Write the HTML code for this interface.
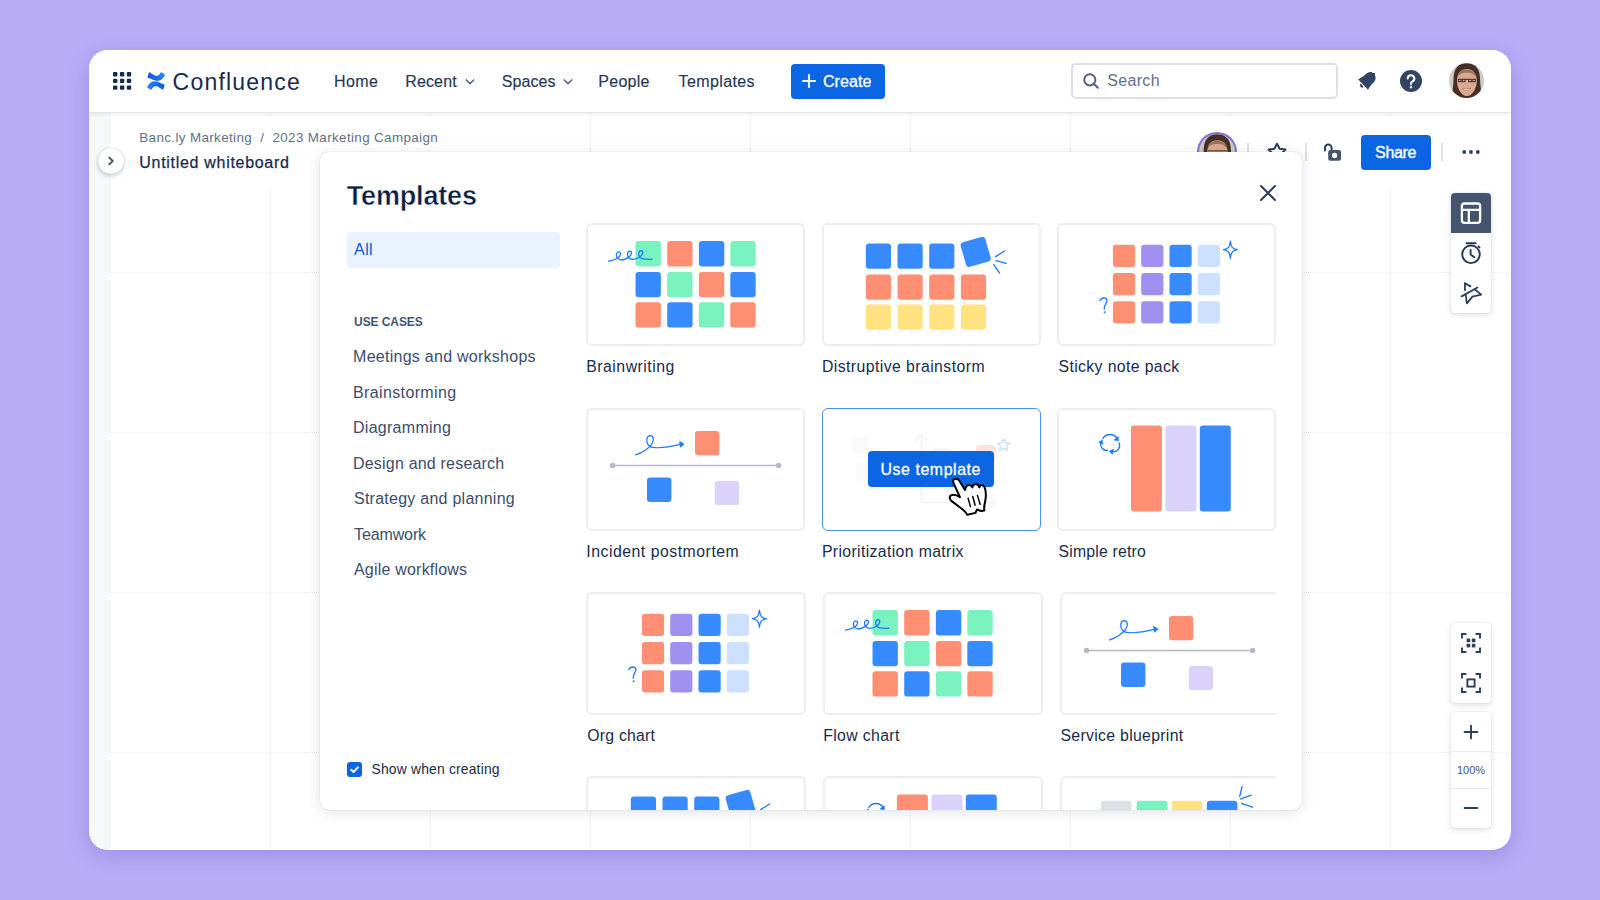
<!DOCTYPE html>
<html lang="en">
<head>
<meta charset="utf-8">
<title>Confluence whiteboard templates</title>
<style>
*{box-sizing:border-box;margin:0;padding:0}
html,body{width:1600px;height:900px;overflow:hidden}
body{background:#B8ACF6;font-family:"Liberation Sans",sans-serif;color:#172B4D;position:relative}
.abs{position:absolute}
.t{position:absolute;white-space:nowrap;line-height:1}
#win{position:absolute;left:89px;top:50px;width:1422px;height:800px;background:#fff;border-radius:19px;overflow:hidden;box-shadow:0 6px 22px rgba(70,50,170,.24)}
/* coordinates inside #win are page coords minus (89,50); use helper wrapper shifted */
#pg{position:absolute;left:-89px;top:-50px;width:1600px;height:900px}
#nav{position:absolute;left:89px;top:50px;width:1422px;height:62px;background:#fff;box-shadow:0 1px 0 #E4E6EA,0 2px 4px rgba(9,30,66,.10);z-index:5}
.navt{font-size:15.5px;color:#26375A;-webkit-text-stroke:.15px #26375A;top:73px;letter-spacing:.1px}
#strip{position:absolute;left:89px;top:112px;width:22px;height:738px;background:#F7F8F9}
.vl{position:absolute;top:112px;height:738px;width:0;border-left:1px dotted #E8EAEE}
.hl{position:absolute;left:111px;width:1400px;height:0;border-top:1px dotted #E8EAEE}
#modal{position:absolute;left:319.6px;top:151.8px;width:982.4px;height:657.8px;background:#fff;border-radius:9px;box-shadow:0 0 1px rgba(9,30,66,.28),0 2px 14px rgba(9,30,66,.13);overflow:hidden;z-index:10}
#mi{position:absolute;left:-319.6px;top:-151.8px;width:1600px;height:900px}
.card{position:absolute;width:218px;height:123.2px;border:2px solid #ECEDF1;border-radius:6px;background:#fff;overflow:hidden}
.card svg{position:absolute;left:-1.1px;top:-1.1px}
.cl{font-size:15.5px;color:#172B4D}
.si{font-size:15px;color:#3C4D6C;left:354px}
</style>
</head>
<body>
<div id="win"><div id="pg">
  <div id="strip"></div>
  <div id="grid"><div class="vl" style="left:270px"></div><div class="vl" style="left:430px"></div><div class="vl" style="left:590px"></div><div class="vl" style="left:750px"></div><div class="vl" style="left:910px"></div><div class="vl" style="left:1070px"></div><div class="vl" style="left:1230px"></div><div class="vl" style="left:1390px"></div><div class="hl" style="top:272px"></div><div class="hl" style="top:432px"></div><div class="hl" style="top:592px"></div><div class="hl" style="top:752px"></div></div>
  <div id="hdr">
<div class="abs" style="left:111px;top:116px;width:470px;height:72px;background:linear-gradient(90deg,#fff 88%,rgba(255,255,255,0))"></div>
<div class="abs" style="left:1150px;top:116px;width:361px;height:72px;background:linear-gradient(270deg,#fff 88%,rgba(255,255,255,0))"></div>
<div class="t" style="left:139.30px;top:131.36px;font-size:13.4px;color:#626F86;letter-spacing:0.370px">Banc.ly Marketing&nbsp; /&nbsp; 2023 Marketing Campaign</div>
<div class="t" style="left:139.30px;top:154.66px;font-size:16px;color:#172B4D;letter-spacing:0.702px;-webkit-text-stroke:.25px #172B4D">Untitled whiteboard</div>
<div class="abs" style="left:98px;top:148px;width:26px;height:26px;border-radius:50%;background:#fff;box-shadow:0 0 1px rgba(9,30,66,.3),0 2px 5px rgba(9,30,66,.22)">
 <svg width="26" height="26" viewBox="0 0 26 26" style="position:absolute;left:0;top:0"><path d="M11.2 9.6 L14.8 13 L11.2 16.4" fill="none" stroke="#44546F" stroke-width="1.9" stroke-linecap="round" stroke-linejoin="round"/></svg>
</div>
<!-- right header actions -->
<div class="abs" style="left:1197px;top:132px;width:40px;height:40px;border-radius:50%;background:#8270DB"></div>
<svg class="abs" style="left:1199px;top:134px" width="36" height="36" viewBox="0 0 35 35">
 <defs><clipPath id="av2"><circle cx="17.5" cy="17.5" r="17.5"/></clipPath></defs>
 <g clip-path="url(#av2)"><g filter="url(#bl1)">
  <rect x="-2" y="-2" width="39" height="39" fill="#CFCBC3"/>
  <path d="M17.600 .2C8 .2 4.800 7 4.600 15C4.400 24 2.500 30 4 36H31.500C33 30 31.200 24 31 15C30.800 7 27.500 .2 17.600 .2Z" fill="#452E25"/>
  <path d="M17.800 6C11.500 6 8.200 10 8 17C7.800 25 12 33 17.800 33C23.600 33 28 25 27.800 17C27.600 10 24 6 17.800 6Z" fill="#DCA98E"/>
  <path d="M8.200 14.500C10 8 14 6.500 17 6.800C22 6 26.500 9 27.800 15C25 10.500 21.500 9.600 17.800 9.800C13.500 9.600 10.500 10.800 8.200 14.500Z" fill="#6A4636" opacity=".55"/>
  <path d="M8.600 16.400H27.200" fill="none" stroke="#4A403E" stroke-width="1.100"/>
 </g></g>
</svg>
<div class="abs" style="left:1247px;top:143px;width:2px;height:18px;background:#DCDFE4"></div>
<svg class="abs" style="left:1264.6px;top:139.600px" width="24" height="24" viewBox="0 0 24 24"><path d="M12 3.6l2.600 5.200 5.900.8-4.300 4.100 1 5.800L12 16.800l-5.200 2.700 1-5.800-4.300-4.100 5.900-.8z" fill="none" stroke="#2C3E5D" stroke-width="2" stroke-linejoin="round"/></svg>
<div class="abs" style="left:1305px;top:143px;width:2px;height:18px;background:#DCDFE4"></div>
<svg class="abs" style="left:1321px;top:140px" width="24" height="24" viewBox="0 0 24 24">
 <path d="M4 10.5V7.8a3.3 3.3 0 0 1 6.6 0V10" fill="none" stroke="#2C3E5D" stroke-width="2" stroke-linecap="round"/>
 <rect x="7.2" y="10" width="12.8" height="10.800" rx="2" fill="#44546F"/>
 <circle cx="13.600" cy="15.400" r="2.600" fill="#fff"/>
</svg>
<div class="abs" style="left:1361px;top:135px;width:70px;height:35px;border-radius:4px;background:#0C66E4"></div>
<div class="t" style="left:1375.10px;top:144.56px;font-size:16px;color:#fff;letter-spacing:-0.349px;-webkit-text-stroke:.35px #fff">Share</div>
<div class="abs" style="left:1441px;top:143px;width:2px;height:18px;background:#DCDFE4"></div>
<svg class="abs" style="left:1459px;top:140px" width="24" height="24" viewBox="0 0 24 24"><g fill="#2C3E5D"><circle cx="5.2" cy="12" r="1.9"/><circle cx="12" cy="12" r="1.9"/><circle cx="18.8" cy="12" r="1.9"/></g></svg>
</div>
  <div id="nav"></div>
  <div id="navc">
<div style="position:absolute;z-index:6;left:0;top:0">
<svg class="abs" style="left:113px;top:72px" width="19" height="19" viewBox="0 0 19 19"><g fill="#172B4D">
<rect x="0" y="0" width="4.4" height="4.4" rx="1"/><rect x="6.9" y="0" width="4.4" height="4.4" rx="1"/><rect x="13.8" y="0" width="4.4" height="4.4" rx="1"/>
<rect x="0" y="6.7" width="4.4" height="4.4" rx="1"/><rect x="6.9" y="6.7" width="4.4" height="4.4" rx="1"/><rect x="13.8" y="6.7" width="4.4" height="4.4" rx="1"/>
<rect x="0" y="13.4" width="4.4" height="4.4" rx="1"/><rect x="6.9" y="13.4" width="4.4" height="4.4" rx="1"/><rect x="13.8" y="13.4" width="4.4" height="4.4" rx="1"/>
</g></svg>
<svg class="abs" style="left:146px;top:71px" width="20" height="20" viewBox="0 0 20 20">
 <defs><linearGradient id="cg1" x1="0" y1="0" x2="1" y2="0"><stop offset="0" stop-color="#0B57DA"/><stop offset="1" stop-color="#2684FF"/></linearGradient></defs>
 <path d="M3.07 1.12L1.37 6.41C4 7.300 6.500 8.500 8.500 9.300C11 10.300 13.500 10 15.160 8.870C17 7.600 18.200 5.600 19.120 3.960L15.160 1.120C14.400 2.400 13.600 3.400 12.890 3.960C11.800 4.900 10.600 5.200 9.400 4.800C7.800 4.200 5.500 2.600 3.070 1.120Z" fill="url(#cg1)"/>
 <path d="M3.07 1.12L1.37 6.41C4 7.300 6.500 8.500 8.500 9.300C11 10.300 13.500 10 15.160 8.870C17 7.600 18.200 5.600 19.120 3.960L15.160 1.120C14.400 2.400 13.600 3.400 12.890 3.960C11.800 4.900 10.600 5.200 9.400 4.800C7.800 4.200 5.500 2.600 3.070 1.120Z" fill="url(#cg1)" transform="rotate(180 10.060 10.080)"/>
</svg>
<div class="t" style="left:172.60px;top:70.53px;font-size:23.0px;color:#172B4D;letter-spacing:1.204px">Confluence</div>
<div class="t navt" style="left:334.00px;top:73.61px;font-size:16px;letter-spacing:0.406px">Home</div>
<div class="t navt" style="left:405.20px;top:73.61px;font-size:16px;letter-spacing:0.150px">Recent</div>
<svg class="abs" style="left:464px;top:76px" width="12" height="12" viewBox="0 0 12 12"><path d="M2.3 4 L6 7.6 L9.7 4" fill="none" stroke="#5E6C84" stroke-width="1.7" stroke-linecap="round" stroke-linejoin="round"/></svg>
<div class="t navt" style="left:501.80px;top:73.61px;font-size:16px;letter-spacing:0.047px">Spaces</div>
<svg class="abs" style="left:562px;top:76px" width="12" height="12" viewBox="0 0 12 12"><path d="M2.3 4 L6 7.6 L9.7 4" fill="none" stroke="#5E6C84" stroke-width="1.7" stroke-linecap="round" stroke-linejoin="round"/></svg>
<div class="t navt" style="left:598.30px;top:73.61px;font-size:16px;letter-spacing:0.276px">People</div>
<div class="t navt" style="left:678.60px;top:73.61px;font-size:16px;letter-spacing:0.385px">Templates</div>
<div class="abs" style="left:791px;top:64px;width:94px;height:35px;border-radius:4px;background:#0C66E4"></div>
<svg class="abs" style="left:801px;top:73px" width="16" height="16" viewBox="0 0 16 16"><path d="M8 2v12M2 8h12" stroke="#fff" stroke-width="2.1" stroke-linecap="round"/></svg>
<div class="t" style="left:822.90px;top:73.61px;font-size:16px;color:#fff;letter-spacing:0.115px;-webkit-text-stroke:.3px #fff">Create</div>
<div class="abs" style="left:1071px;top:63px;width:267px;height:36px;border:2px solid #DCDFE4;border-radius:5px;background:#fff"></div>
<svg class="abs" style="left:1082px;top:72px" width="18" height="18" viewBox="0 0 18 18"><circle cx="7.800" cy="7.800" r="5.600" fill="none" stroke="#51617F" stroke-width="2"/><path d="M12 12l3.800 3.800" stroke="#51617F" stroke-width="2" stroke-linecap="round"/></svg>
<div class="t" style="left:1107.20px;top:73.26px;font-size:16px;color:#626F86;letter-spacing:0.341px">Search</div>
<svg class="abs" style="left:1354px;top:69px" width="24" height="24" viewBox="0 0 24 24"><path d="M4 10.300C6.500 9.300 8.500 8 10.500 6.200C12 4.800 13.500 3.400 16 3C17.500 2.900 18.500 3.600 19 3.900L20.900 4.100L21 6.400C21.600 7.500 22 9 21 11.500C20 13.500 18.800 14.200 17.600 15.600C16.200 17.400 15.200 19 14 20.800Z" fill="#344563"/><path d="M6.600 14.600A2.200 2.200 0 0 0 9.700 17.900Z" fill="#344563"/></svg>
<svg class="abs" style="left:1399px;top:69px" width="24" height="24" viewBox="0 0 24 24"><circle cx="12" cy="12" r="11" fill="#344563"/><path d="M8.7 9.5a3.3 3.3 0 1 1 4.9 2.9c-.9.5-1.6 1.1-1.6 2.1v.4" fill="none" stroke="#fff" stroke-width="2.1" stroke-linecap="round"/><circle cx="12" cy="18.1" r="1.35" fill="#fff"/></svg>
<svg class="abs" style="left:1449px;top:63.4px" width="35" height="35" viewBox="0 0 35 35">
 <defs><clipPath id="av1"><circle cx="17.5" cy="17.5" r="17.5"/></clipPath><filter id="bl1" x="-10%" y="-10%" width="120%" height="120%"><feGaussianBlur stdDeviation=".55"/></filter></defs>
 <g clip-path="url(#av1)"><g filter="url(#bl1)">
  <rect x="-2" y="-2" width="39" height="39" fill="#CFCBC3"/>
  <path d="M17.600 .2C8 .2 4.800 7 4.600 15C4.400 24 2.500 30 4 36H31.500C33 30 31.200 24 31 15C30.800 7 27.500 .2 17.600 .2Z" fill="#452E25"/>
  <path d="M17.800 6C11.500 6 8.200 10 8 17C7.800 25 12 33 17.800 33C23.600 33 28 25 27.800 17C27.600 10 24 6 17.800 6Z" fill="#DCA98E"/>
  <path d="M8.200 14.500C10 8 14 6.500 17 6.800C22 6 26.500 9 27.800 15C25 10.500 21.500 9.600 17.800 9.800C13.500 9.600 10.500 10.800 8.200 14.500Z" fill="#6A4636" opacity=".55"/>
  <path d="M8.600 16.400H27.200M9.400 16.600V18.600H16V16.600M19.600 16.600V18.600H26.400V16.600" fill="none" stroke="#4A403E" stroke-width="1.100"/>
  <ellipse cx="12.700" cy="17.300" rx="1.500" ry=".8" fill="#5A4A48"/><ellipse cx="22.900" cy="17.300" rx="1.500" ry=".8" fill="#5A4A48"/>
  <path d="M13.400 25.200Q17.700 26 22 25.200Q17.700 29.600 13.400 25.200Z" fill="#F4EAD8" stroke="#B4685A" stroke-width=".7"/>
  <path d="M11 33.500Q17.700 36 24.500 33.500L26 37H9Z" fill="#5A2E22"/>
 </g></g>
</svg>
</div>
</div>
  <div id="tools">
<div class="abs" style="left:1451px;top:193px;width:40px;height:120px;border-radius:4px;background:#fff;box-shadow:0 0 1px rgba(9,30,66,.25),0 2px 6px rgba(9,30,66,.14);overflow:hidden">
 <div class="abs" style="left:0;top:0;width:40px;height:40px;background:#44546F"></div>
 <svg class="abs" style="left:8px;top:8px" width="24" height="24" viewBox="0 0 24 24"><rect x="2.900" y="2.500" width="18.200" height="19.400" rx="2.600" fill="none" stroke="#fff" stroke-width="2.300"/><path d="M2.900 8.900H21.100M9.800 8.900V21.800" stroke="#fff" stroke-width="2.300" fill="none"/></svg>
 <svg class="abs" style="left:8px;top:48px" width="24" height="24" viewBox="0 0 24 24"><circle cx="12" cy="13.300" r="8.800" fill="none" stroke="#253858" stroke-width="1.900"/><path d="M7.500 2.300H16.700" stroke="#253858" stroke-width="1.900" stroke-linecap="round"/><path d="M11.600 9V13.400L15.300 16.300" fill="none" stroke="#253858" stroke-width="1.900" stroke-linecap="round" stroke-linejoin="round"/><path d="M19.500 5.300L20.500 6.300" stroke="#253858" stroke-width="1.900" stroke-linecap="round"/></svg>
 <svg class="abs" style="left:8px;top:88px" width="24" height="24" viewBox="0 0 24 24"><path d="M6 9.200L5.800 2.100L11.500 5.400M2.600 15.400L18.400 6.500M6.700 13.400L7.900 22.400L13.400 15.600L22.200 13.600L16.300 8.800" fill="none" stroke="#2C3E5D" stroke-width="1.8" stroke-linejoin="round" stroke-linecap="round"/></svg>
</div>
<div class="abs" style="left:1451px;top:623px;width:40px;height:80px;border-radius:4px;background:#fff;box-shadow:0 0 1px rgba(9,30,66,.25),0 2px 6px rgba(9,30,66,.14)">
 <svg class="abs" style="left:8px;top:8px" width="24" height="24" viewBox="0 0 24 24"><path d="M3 7.4V3H7.4M16.6 3H21V7.4M21 16.600V21H16.6M7.4 21H3V16.6" fill="none" stroke="#2C3E5D" stroke-width="1.9"/><g fill="#2C3E5D"><rect x="7.6" y="7.6" width="3.6" height="3.6"/><rect x="12.8" y="7.600" width="3.6" height="3.6"/><rect x="7.6" y="12.8" width="3.6" height="3.6"/><rect x="12.8" y="12.8" width="3.6" height="3.6"/></g></svg>
 <svg class="abs" style="left:8px;top:48px" width="24" height="24" viewBox="0 0 24 24"><path d="M3 7.4V3H7.4M16.6 3H21V7.4M21 16.600V21H16.6M7.4 21H3V16.6" fill="none" stroke="#2C3E5D" stroke-width="1.9"/><rect x="8.4" y="8.400" width="7.2" height="7.2" fill="none" stroke="#2C3E5D" stroke-width="1.9"/></svg>
</div>
<div class="abs" style="left:1451px;top:712px;width:40px;height:116px;border-radius:4px;background:#fff;box-shadow:0 0 1px rgba(9,30,66,.25),0 2px 6px rgba(9,30,66,.14)">
 <svg class="abs" style="left:12px;top:12px" width="16" height="16" viewBox="0 0 16 16"><path d="M8 1.6V14.4M1.6 8H14.400" stroke="#2C3E5D" stroke-width="1.9" stroke-linecap="round"/></svg>
 <div class="abs" style="left:0;top:38.5px;width:40px;height:1px;background:#EBECF0"></div>
 <div class="t" style="left:0;width:40px;text-align:center;top:52.5px;font-size:11px;color:#44546F">100%</div>
 <div class="abs" style="left:0;top:76px;width:40px;height:1px;background:#EBECF0"></div>
 <svg class="abs" style="left:12px;top:88px" width="16" height="16" viewBox="0 0 16 16"><path d="M1.6 8H14.400" stroke="#2C3E5D" stroke-width="1.9" stroke-linecap="round"/></svg>
</div>
</div>
  <div id="modal"><div id="mi">
    <div id="side">
<div class="t" style="left:346.80px;top:183.04px;font-size:27px;font-weight:bold;color:#091E42;letter-spacing:-0.179px;-webkit-text-stroke:.45px #fff">Templates</div>
<svg class="abs" style="left:1258px;top:183px" width="20" height="20" viewBox="0 0 20 20"><path d="M3 3l14 14M17 3L3 17" stroke="#2C3E5D" stroke-width="2" stroke-linecap="round"/></svg>
<div class="abs" style="left:347px;top:232px;width:213px;height:36px;border-radius:4px;background:#E9F2FF"></div>
<div class="t" style="left:354.10px;top:242.46px;font-size:16px;color:#0C5BDC;letter-spacing:0.387px">All</div>
<div class="t" style="left:354.10px;top:315.74px;font-size:12px;font-weight:bold;color:#44546F;letter-spacing:-0.081px">USE CASES</div>
<div class="t si" style="top:349.16px;left:353.10px;font-size:16px;letter-spacing:0.263px">Meetings and workshops</div>
<div class="t si" style="top:384.66px;left:353.10px;font-size:16px;letter-spacing:0.358px">Brainstorming</div>
<div class="t si" style="top:420.16px;left:353.00px;font-size:16px;letter-spacing:0.276px">Diagramming</div>
<div class="t si" style="top:455.76px;left:353.00px;font-size:16px;letter-spacing:0.198px">Design and research</div>
<div class="t si" style="top:491.26px;left:354.00px;font-size:16px;letter-spacing:0.251px">Strategy and planning</div>
<div class="t si" style="top:526.86px;left:354.00px;font-size:16px;letter-spacing:-0.115px">Teamwork</div>
<div class="t si" style="top:562.46px;left:354.00px;font-size:16px;letter-spacing:0.203px">Agile workflows</div>
<div class="abs" style="left:347px;top:762px;width:15px;height:15px;border-radius:3px;background:#0C66E4"></div>
<svg class="abs" style="left:347px;top:762px" width="15" height="15" viewBox="0 0 15 15"><path d="M4.2 7.7l2.3 2.3 4.4-4.6" fill="none" stroke="#fff" stroke-width="2" stroke-linecap="round" stroke-linejoin="round"/></svg>
<div class="t" style="left:371.50px;top:763.03px;font-size:13.9px;color:#172B4D;letter-spacing:0.173px">Show when creating</div>
</div>
    <div id="cards"><div class="card" style="left:586.3px;top:222.9px;width:218.7px"><svg style="left:-1.10px;top:-1.60px" width="218.7" height="124" viewBox="0 0 218.7 124"><rect x="48.5" y="18.1" width="25.4" height="25.4" rx="3.2" fill="#79F2C0"/><rect x="80.2" y="18.1" width="25.4" height="25.4" rx="3.2" fill="#FF8F73"/><rect x="111.9" y="18.1" width="25.4" height="25.4" rx="3.2" fill="#388BFF"/><rect x="143.3" y="18.1" width="25.4" height="25.4" rx="3.2" fill="#79F2C0"/><rect x="48.5" y="48.9" width="25.4" height="25.4" rx="3.2" fill="#388BFF"/><rect x="80.2" y="48.9" width="25.4" height="25.4" rx="3.2" fill="#79F2C0"/><rect x="111.9" y="48.9" width="25.4" height="25.4" rx="3.2" fill="#FF8F73"/><rect x="143.3" y="48.9" width="25.4" height="25.4" rx="3.2" fill="#388BFF"/><rect x="48.5" y="79.2" width="25.4" height="25.4" rx="3.2" fill="#FF8F73"/><rect x="80.2" y="79.2" width="25.4" height="25.4" rx="3.2" fill="#388BFF"/><rect x="111.9" y="79.2" width="25.4" height="25.4" rx="3.2" fill="#79F2C0"/><rect x="143.3" y="79.2" width="25.4" height="25.4" rx="3.2" fill="#FF8F73"/><path transform="translate(0,0)" d="M21.5 38.2 C25 37.6 28 36.6 30.5 35.2 C34 33 34.5 29.2 32 28.8 C29.3 28.6 28.4 33 30.6 35.4 C33.2 38 38 36.6 41.5 34.4 C45 32 45.4 28.4 43 28.2 C40.4 28.2 39.6 32.6 41.8 34.8 C44.4 37.4 49.4 36.2 52.8 34 C56.4 31.4 56.6 27.8 54.2 27.6 C51.4 27.6 50.8 32.4 53.2 34.6 C56 37 61 36.4 65 36.2" fill="none" stroke="#1D7AFC" stroke-width="1.3" stroke-linecap="round"/></svg></div><div class="card" style="left:821.9px;top:222.9px;width:218.8px"><svg style="left:-1.70px;top:-1.60px" width="218.8" height="124" viewBox="0 0 218.8 124"><rect x="43.8" y="20.6" width="25.2" height="25.2" rx="3.2" fill="#388BFF"/><rect x="75.5" y="20.6" width="25.2" height="25.2" rx="3.2" fill="#388BFF"/><rect x="107.2" y="20.6" width="25.2" height="25.2" rx="3.2" fill="#388BFF"/><rect x="-12.8" y="-12.8" width="25.6" height="25.6" rx="3.2" fill="#388BFF" transform="translate(153.7,28.9) rotate(-16)"/><rect x="43.8" y="51.6" width="25.2" height="25.2" rx="3.2" fill="#FF8F73"/><rect x="75.5" y="51.6" width="25.2" height="25.2" rx="3.2" fill="#FF8F73"/><rect x="107.2" y="51.6" width="25.2" height="25.2" rx="3.2" fill="#FF8F73"/><rect x="138.9" y="51.6" width="25.2" height="25.2" rx="3.2" fill="#FF8F73"/><rect x="43.8" y="81.6" width="25.2" height="25.2" rx="3.2" fill="#FFE380"/><rect x="75.5" y="81.6" width="25.2" height="25.2" rx="3.2" fill="#FFE380"/><rect x="107.2" y="81.6" width="25.2" height="25.2" rx="3.2" fill="#FFE380"/><rect x="138.9" y="81.6" width="25.2" height="25.2" rx="3.2" fill="#FFE380"/><path d="M173.7 33.6L182.6 28M174.1 37.6L184.1 40.4M171.8 41.7L177.5 49.9" stroke="#1D7AFC" stroke-width="1.4" stroke-linecap="round" fill="none"/></svg></div><div class="card" style="left:1057.4px;top:222.9px;width:218.8px"><svg style="left:-1.10px;top:-1.60px" width="218.8" height="124" viewBox="0 0 218.8 124"><rect x="54.9" y="21.7" width="22.2" height="22.2" rx="3" fill="#FF8F73"/><rect x="83.2" y="21.7" width="22.2" height="22.2" rx="3" fill="#9F8FEF"/><rect x="111.5" y="21.7" width="22.2" height="22.2" rx="3" fill="#388BFF"/><rect x="139.8" y="21.7" width="22.2" height="22.2" rx="3" fill="#CCE0FF"/><rect x="54.9" y="50.0" width="22.2" height="22.2" rx="3" fill="#FF8F73"/><rect x="83.2" y="50.0" width="22.2" height="22.2" rx="3" fill="#9F8FEF"/><rect x="111.5" y="50.0" width="22.2" height="22.2" rx="3" fill="#388BFF"/><rect x="139.8" y="50.0" width="22.2" height="22.2" rx="3" fill="#CCE0FF"/><rect x="54.9" y="78.2" width="22.2" height="22.2" rx="3" fill="#FF8F73"/><rect x="83.2" y="78.2" width="22.2" height="22.2" rx="3" fill="#9F8FEF"/><rect x="111.5" y="78.2" width="22.2" height="22.2" rx="3" fill="#388BFF"/><rect x="139.8" y="78.2" width="22.2" height="22.2" rx="3" fill="#CCE0FF"/><path d="M172.4 18.1 C173.0 24.099999999999998 174.4 25.8 179.4 26.7 C174.4 27.599999999999998 173.0 29.3 172.4 35.3 C171.8 29.3 170.4 27.599999999999998 165.4 26.7 C170.4 25.8 171.8 24.099999999999998 172.4 18.1Z" fill="#fff" stroke="#1D7AFC" stroke-width="1.3" stroke-linejoin="round"/><path d="M41.8 77.6 C43 74.6 47.6 74 48.9 76.6 C50.2 79.4 45.6 81.6 46.2 86.2" fill="none" stroke="#1D7AFC" stroke-width="1.4" stroke-linecap="round"/><circle cx="46.6" cy="89.2" r="1" fill="#1D7AFC"/></svg></div><div class="t cl" style="left:586.30px;top:359.13px;font-size:15.8px;letter-spacing:0.496px">Brainwriting</div><div class="t cl" style="left:821.90px;top:359.13px;font-size:15.8px;letter-spacing:0.430px">Distruptive brainstorm</div><div class="t cl" style="left:1058.50px;top:359.13px;font-size:15.8px;letter-spacing:0.378px">Sticky note pack</div><div class="card" style="left:586.3px;top:407.9px;width:218.7px"><svg style="left:-1.10px;top:-1.60px" width="218.7" height="124" viewBox="0 0 218.7 124"><path d="M25.6 57.4H191.6" stroke="#B3B9C4" stroke-width="1.5"/><circle cx="25.6" cy="57.4" r="2.7" fill="#B3B9C4"/><circle cx="191.6" cy="57.4" r="2.7" fill="#B3B9C4"/><rect x="108.0" y="23.0" width="24.3" height="24.3" rx="3.2" fill="#FF8F73"/><rect x="60.0" y="69.5" width="24.4" height="24.4" rx="3.2" fill="#388BFF"/><rect x="127.8" y="72.9" width="24.2" height="24.2" rx="3.2" fill="#DAD2FA"/><path d="M48.6 46.8 C55 45 61 41 64.6 36.4 C67.6 32.2 66.6 27.6 63.2 27.6 C59.6 27.8 58.6 33 61.2 36.8 C64.6 41.6 80 39.6 94.6 36.2" fill="none" stroke="#1D7AFC" stroke-width="1.3" stroke-linecap="round"/><path d="M92.6 33.4L97 36L93.6 39.2Z" fill="#1D7AFC" stroke="#1D7AFC" stroke-width=".8" stroke-linejoin="round"/></svg></div><div class="card" style="left:821.9px;top:407.9px;width:218.8px;border-color:transparent"><svg style="left:-1.70px;top:-1.60px" width="218.8" height="124" viewBox="0 0 218.8 124"><rect x="30" y="28.5" width="18" height="17.5" rx="3" fill="#F9FAFB"/><rect x="34" y="54.5" width="13" height="18" rx="3" fill="#F9FAFB"/><path d="M99.5 94.5V27M92.5 33.5L99.5 26.5L106.5 33.5M99.5 94.5H172M166 87.5L173 94.5L166 101.5" fill="none" stroke="#F1F2F4" stroke-width="1.6"/><rect x="111" y="40" width="17" height="10" rx="3" fill="#F0F4FF"/><rect x="154" y="37" width="19" height="18" rx="3" fill="#FFE2DA"/><path d="M181.5 30.8l1.9 3.9 4.2.6-3.1 3 .8 4.2-3.8-2-3.8 2 .8-4.2-3.1-3 4.2-.6z" fill="none" stroke="#CCE0FF" stroke-width="1.5" stroke-linejoin="round"/></svg></div><div class="abs" style="left:821.8px;top:407.79999999999995px;width:219.0px;height:123.4px;border:1.3px solid #4A90F2;border-radius:6px"></div><div class="card" style="left:1057.4px;top:407.9px;width:218.8px"><svg style="left:-1.10px;top:-1.60px" width="218.8" height="124" viewBox="0 0 218.8 124"><rect x="72.9" y="17.6" width="31" height="85.9" rx="3.2" fill="#FF8F73"/><rect x="107.4" y="17.6" width="31" height="85.9" rx="3.2" fill="#DAD2FA"/><rect x="141.8" y="17.6" width="31" height="85.9" rx="3.2" fill="#388BFF"/><path d="M44.8 30.6A8.4 8.4 0 0 1 59.3 30.8M61 35A6 6 0 0 1 55 43.6M49.7 42.4A6.2 6.2 0 0 1 42.7 35" fill="none" stroke="#1D7AFC" stroke-width="1.35" stroke-linecap="round"/><path d="M55.9 32.1L60.4 28.4L60.4 33ZM51.3 43.2L55.5 41L54.4 46.4ZM40.600 33.9L44.4 32.1L45 36.4Z" fill="#1D7AFC" stroke="#1D7AFC" stroke-width=".5" stroke-linejoin="round"/></svg></div><div class="t cl" style="left:586.30px;top:543.73px;font-size:15.8px;letter-spacing:0.519px">Incident postmortem</div><div class="t cl" style="left:821.90px;top:543.73px;font-size:15.8px;letter-spacing:0.365px">Prioritization matrix</div><div class="t cl" style="left:1058.50px;top:543.73px;font-size:15.8px;letter-spacing:0.185px">Simple retro</div><div class="abs" style="left:868px;top:451px;width:126px;height:35.5px;border-radius:4px;background:#0C66E4"></div><div class="t" id="uset" style="left:880.50px;top:462.24px;font-size:15.9px;color:#fff;letter-spacing:0.574px;-webkit-text-stroke:.3px #fff">Use template</div><svg class="abs" style="left:930px;top:460px;z-index:3" width="80" height="70" viewBox="0 0 1029 900"><path d="M330 242C300 238 290 272 305 302L385 478C350 455 300 440 270 456C245 472 250 502 275 526L400 620C440 650 465 672 480 705L585 680L605 636L655 656L700 648C685 600 715 540 718 470C720 400 705 340 680 326C655 316 640 326 635 352C625 322 600 306 580 311C555 316 545 332 545 352C535 326 505 316 485 326C460 336 455 356 450 386L382 272C367 247 347 240 330 242Z" fill="#fff" stroke="#000" stroke-width="26" stroke-linejoin="round"/><path d="M490 490L520 600M550 470L580 582M610 455L645 570" stroke="#000" stroke-width="19" stroke-linecap="round" fill="none"/></svg><div class="abs" style="left:580px;top:585px;width:696px;height:230px;overflow:hidden"><div class="abs" style="left:-580px;top:-585px;width:1600px;height:900px"><div class="card" style="left:586.3px;top:591.8px;width:219.6px"><svg style="left:-1.30px;top:-1.60px" width="219.6" height="124" viewBox="0 0 219.6 124"><rect x="54.9" y="21.7" width="22.2" height="22.2" rx="3" fill="#FF8F73"/><rect x="83.2" y="21.7" width="22.2" height="22.2" rx="3" fill="#9F8FEF"/><rect x="111.5" y="21.7" width="22.2" height="22.2" rx="3" fill="#388BFF"/><rect x="139.8" y="21.7" width="22.2" height="22.2" rx="3" fill="#CCE0FF"/><rect x="54.9" y="50.0" width="22.2" height="22.2" rx="3" fill="#FF8F73"/><rect x="83.2" y="50.0" width="22.2" height="22.2" rx="3" fill="#9F8FEF"/><rect x="111.5" y="50.0" width="22.2" height="22.2" rx="3" fill="#388BFF"/><rect x="139.8" y="50.0" width="22.2" height="22.2" rx="3" fill="#CCE0FF"/><rect x="54.9" y="78.2" width="22.2" height="22.2" rx="3" fill="#FF8F73"/><rect x="83.2" y="78.2" width="22.2" height="22.2" rx="3" fill="#9F8FEF"/><rect x="111.5" y="78.2" width="22.2" height="22.2" rx="3" fill="#388BFF"/><rect x="139.8" y="78.2" width="22.2" height="22.2" rx="3" fill="#CCE0FF"/><path d="M172.4 18.1 C173.0 24.099999999999998 174.4 25.8 179.4 26.7 C174.4 27.599999999999998 173.0 29.3 172.4 35.3 C171.8 29.3 170.4 27.599999999999998 165.4 26.7 C170.4 25.8 171.8 24.099999999999998 172.4 18.1Z" fill="#fff" stroke="#1D7AFC" stroke-width="1.3" stroke-linejoin="round"/><path d="M41.8 77.6 C43 74.6 47.6 74 48.9 76.6 C50.2 79.4 45.6 81.6 46.2 86.2" fill="none" stroke="#1D7AFC" stroke-width="1.4" stroke-linecap="round"/><circle cx="46.6" cy="89.2" r="1" fill="#1D7AFC"/></svg></div><div class="card" style="left:823.2px;top:591.8px;width:219.6px"><svg style="left:-1.50px;top:-1.60px" width="219.6" height="124" viewBox="0 0 219.6 124"><rect x="48.5" y="18.1" width="25.4" height="25.4" rx="3.2" fill="#79F2C0"/><rect x="80.2" y="18.1" width="25.4" height="25.4" rx="3.2" fill="#FF8F73"/><rect x="111.9" y="18.1" width="25.4" height="25.4" rx="3.2" fill="#388BFF"/><rect x="143.3" y="18.1" width="25.4" height="25.4" rx="3.2" fill="#79F2C0"/><rect x="48.5" y="48.9" width="25.4" height="25.4" rx="3.2" fill="#388BFF"/><rect x="80.2" y="48.9" width="25.4" height="25.4" rx="3.2" fill="#79F2C0"/><rect x="111.9" y="48.9" width="25.4" height="25.4" rx="3.2" fill="#FF8F73"/><rect x="143.3" y="48.9" width="25.4" height="25.4" rx="3.2" fill="#388BFF"/><rect x="48.5" y="79.2" width="25.4" height="25.4" rx="3.2" fill="#FF8F73"/><rect x="80.2" y="79.2" width="25.4" height="25.4" rx="3.2" fill="#388BFF"/><rect x="111.9" y="79.2" width="25.4" height="25.4" rx="3.2" fill="#79F2C0"/><rect x="143.3" y="79.2" width="25.4" height="25.4" rx="3.2" fill="#FF8F73"/><path transform="translate(0,0)" d="M21.5 38.2 C25 37.6 28 36.6 30.5 35.2 C34 33 34.5 29.2 32 28.8 C29.3 28.6 28.4 33 30.6 35.4 C33.2 38 38 36.6 41.5 34.4 C45 32 45.4 28.4 43 28.2 C40.4 28.2 39.6 32.6 41.8 34.8 C44.4 37.4 49.4 36.2 52.8 34 C56.4 31.4 56.6 27.8 54.2 27.6 C51.4 27.6 50.8 32.4 53.2 34.6 C56 37 61 36.4 65 36.2" fill="none" stroke="#1D7AFC" stroke-width="1.3" stroke-linecap="round"/></svg></div><div class="card" style="left:1059.9px;top:591.8px;width:222px"><svg style="left:-0.80px;top:-1.20px" width="222" height="124" viewBox="0 0 222 124"><path d="M25.6 57.4H191.6" stroke="#B3B9C4" stroke-width="1.5"/><circle cx="25.6" cy="57.4" r="2.7" fill="#B3B9C4"/><circle cx="191.6" cy="57.4" r="2.7" fill="#B3B9C4"/><rect x="108.0" y="23.0" width="24.3" height="24.3" rx="3.2" fill="#FF8F73"/><rect x="60.0" y="69.5" width="24.4" height="24.4" rx="3.2" fill="#388BFF"/><rect x="127.8" y="72.9" width="24.2" height="24.2" rx="3.2" fill="#DAD2FA"/><path d="M48.6 46.8 C55 45 61 41 64.6 36.4 C67.6 32.2 66.6 27.6 63.2 27.6 C59.6 27.8 58.6 33 61.2 36.8 C64.6 41.6 80 39.6 94.6 36.2" fill="none" stroke="#1D7AFC" stroke-width="1.3" stroke-linecap="round"/><path d="M92.6 33.4L97 36L93.6 39.2Z" fill="#1D7AFC" stroke="#1D7AFC" stroke-width=".8" stroke-linejoin="round"/></svg></div><div class="t cl" style="left:587.30px;top:728.33px;font-size:15.8px;letter-spacing:0.218px">Org chart</div><div class="t cl" style="left:823.20px;top:728.33px;font-size:15.8px;letter-spacing:0.370px">Flow chart</div><div class="t cl" style="left:1060.50px;top:728.33px;font-size:15.8px;letter-spacing:0.314px">Service blueprint</div><div class="card" style="left:586.3px;top:776px;width:219.6px"><svg style="left:-1.10px;top:-1.60px" width="219.6" height="124" viewBox="0 0 219.6 124"><rect x="43.8" y="20.6" width="25.2" height="25.2" rx="3.2" fill="#388BFF"/><rect x="75.5" y="20.6" width="25.2" height="25.2" rx="3.2" fill="#388BFF"/><rect x="107.2" y="20.6" width="25.2" height="25.2" rx="3.2" fill="#388BFF"/><rect x="-12.8" y="-12.8" width="25.6" height="25.6" rx="3.2" fill="#388BFF" transform="translate(153.7,28.9) rotate(-16)"/><rect x="43.8" y="51.6" width="25.2" height="25.2" rx="3.2" fill="#FF8F73"/><rect x="75.5" y="51.6" width="25.2" height="25.2" rx="3.2" fill="#FF8F73"/><rect x="107.2" y="51.6" width="25.2" height="25.2" rx="3.2" fill="#FF8F73"/><rect x="138.9" y="51.6" width="25.2" height="25.2" rx="3.2" fill="#FF8F73"/><rect x="43.8" y="81.6" width="25.2" height="25.2" rx="3.2" fill="#FFE380"/><rect x="75.5" y="81.6" width="25.2" height="25.2" rx="3.2" fill="#FFE380"/><rect x="107.2" y="81.6" width="25.2" height="25.2" rx="3.2" fill="#FFE380"/><rect x="138.9" y="81.6" width="25.2" height="25.2" rx="3.2" fill="#FFE380"/><path d="M173.7 33.6L182.6 28M174.1 37.6L184.1 40.4M171.8 41.7L177.5 49.9" stroke="#1D7AFC" stroke-width="1.4" stroke-linecap="round" fill="none"/></svg></div><div class="card" style="left:823.2px;top:776px;width:219.6px"><svg style="left:-1.50px;top:-1.40px" width="219.6" height="124" viewBox="0 0 219.6 124"><rect x="72.9" y="17.6" width="31" height="85.9" rx="3.2" fill="#FF8F73"/><rect x="107.4" y="17.6" width="31" height="85.9" rx="3.2" fill="#DAD2FA"/><rect x="141.8" y="17.6" width="31" height="85.9" rx="3.2" fill="#388BFF"/><path d="M44.8 30.6A8.4 8.4 0 0 1 59.3 30.8M61 35A6 6 0 0 1 55 43.6M49.7 42.4A6.2 6.2 0 0 1 42.7 35" fill="none" stroke="#1D7AFC" stroke-width="1.35" stroke-linecap="round"/><path d="M55.9 32.1L60.4 28.4L60.4 33ZM51.3 43.2L55.5 41L54.4 46.4ZM40.600 33.9L44.4 32.1L45 36.4Z" fill="#1D7AFC" stroke="#1D7AFC" stroke-width=".5" stroke-linejoin="round"/></svg></div><div class="card" style="left:1059.9px;top:776px;width:222px"><svg style="left:-1.60px;top:-1.90px" width="222" height="124" viewBox="0 0 222 124"><rect x="40.9" y="24.7" width="30.6" height="30.6" rx="3.2" fill="#DCDFE4"/><rect x="76.7" y="24.7" width="30.6" height="30.6" rx="3.2" fill="#79F2C0"/><rect x="111.7" y="24.7" width="30.6" height="30.6" rx="3.2" fill="#FFE380"/><rect x="146.8" y="24.7" width="30.6" height="30.6" rx="3.2" fill="#388BFF"/><path d="M182 10.8L179.7 20.3M180.3 23.1L191.2 19.2M181.5 27.3L192.4 31.2" stroke="#1D7AFC" stroke-width="1.4" stroke-linecap="round" fill="none"/></svg></div></div></div></div><!--/cards-->
  </div></div>
</div></div>
</body>
</html>
